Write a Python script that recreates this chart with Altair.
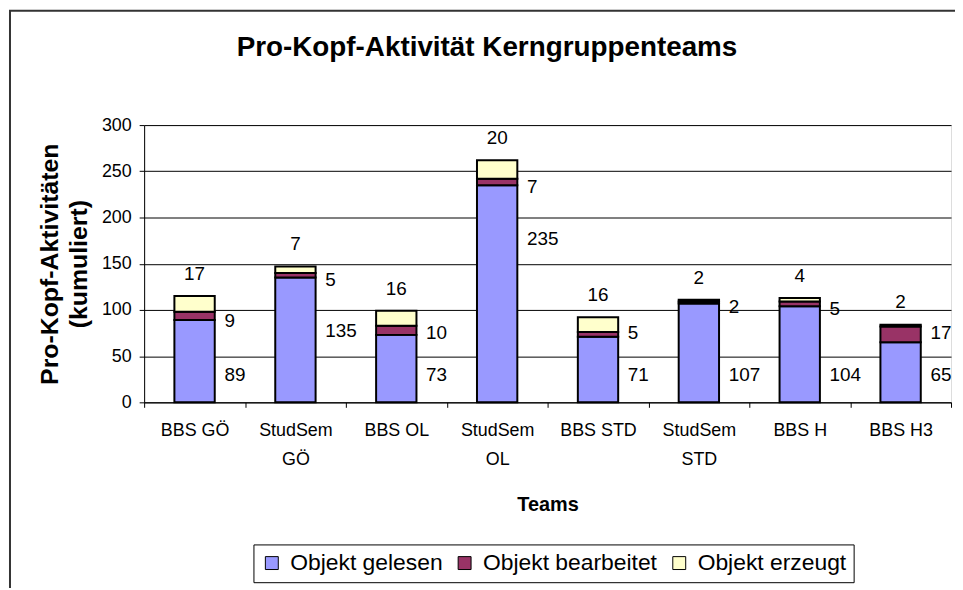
import altair as alt
import pandas as pd

teams = ["BBS GÖ", "StudSem GÖ", "BBS OL", "StudSem OL", "BBS STD", "StudSem STD", "BBS H", "BBS H3"]
gelesen = [89, 135, 73, 235, 71, 107, 104, 65]
bearbeitet = [9, 5, 10, 7, 5, 2, 5, 17]
erzeugt = [17, 7, 16, 20, 16, 2, 4, 2]
series = ["Objekt gelesen", "Objekt bearbeitet", "Objekt erzeugt"]
colors = ["#9999FF", "#993366", "#FFFFCC"]
y_ticks = [0, 50, 100, 150, 200, 250, 300]

df = pd.DataFrame({
    "Team": teams,
    "Objekt gelesen": gelesen,
    "Objekt bearbeitet": bearbeitet,
    "Objekt erzeugt": erzeugt,
})

FONT = "Liberation Sans"

x_enc = alt.X(
    "Team:N",
    sort=teams,
    scale=alt.Scale(paddingInner=0, paddingOuter=0),
    axis=alt.Axis(
        title="Teams",
        titleFont=FONT, titleFontSize=20, titleFontWeight="bold", titleColor="black",
        titlePadding=26,
        labelFont=FONT, labelFontSize=18, labelColor="black", labelAngle=0,
        labelPadding=14, labelLineHeight=30,
        labelExpr="indexof(datum.label, 'StudSem') == 0 ? split(datum.label, ' ') : datum.label",
        tickBand="extent", tickSize=5, tickColor="black", domainColor="black",
        grid=False,
    ),
)

y_scale = alt.Scale(domain=[0, 300], nice=False)

base = alt.Chart(df)

bars = base.transform_fold(
    series, as_=["series", "value"]
).transform_calculate(
    ord="indexof(['Objekt gelesen','Objekt bearbeitet','Objekt erzeugt'], datum.series)"
).mark_bar(
    stroke="black", strokeWidth=2, width=alt.RelativeBandSize(0.4)
).encode(
    x=x_enc,
    y=alt.Y(
        "value:Q",
        stack="zero",
        scale=y_scale,
        axis=alt.Axis(
            values=y_ticks,
            title=["Pro-Kopf-Aktivitäten", "(kumuliert)"],
            titleFont=FONT, titleFontSize=25, titleFontWeight="bold", titleColor="black",
            titleAngle=270, titleAlign="center", titleBaseline="top",
            titleX=-107, titleY=139.5, titleLineHeight=29,
            labelFont=FONT, labelFontSize=18, labelColor="black", labelPadding=8,
            tickSize=5, tickColor="black", domainColor="black",
            grid=True, gridColor="black", gridWidth=1, gridOpacity=1,
        ),
    ),
    color=alt.Color(
        "series:N",
        scale=alt.Scale(domain=series, range=colors),
        legend=alt.Legend(
            title=None, orient="none", legendX=110, legendY=422,
            direction="horizontal",
            labelFont=FONT, labelFontSize=23, labelColor="black", labelLimit=400,
            labelOffset=7,
            symbolType="square", symbolSize=169, symbolStrokeColor="black",
            symbolStrokeWidth=1, symbolOpacity=1,
            strokeColor="black", fillColor="white", padding=7, columnPadding=10,
        ),
    ),
    order=alt.Order("ord:Q", sort="ascending"),
)

lab1 = base.transform_calculate(
    ly="datum['Objekt gelesen'] > 120 ? datum['Objekt gelesen'] - 58 : 30"
).mark_text(
    align="left", baseline="middle", dx=30, font=FONT, fontSize=19, color="black"
).encode(
    x=alt.X("Team:N", sort=teams),
    y=alt.Y("ly:Q", scale=y_scale),
    text=alt.Text("Objekt gelesen:Q"),
)

lab2 = base.transform_calculate(
    ly1="datum['Objekt gelesen'] > 120 ? datum['Objekt gelesen'] - 58 : 30"
).transform_calculate(
    ly="max(datum['Objekt gelesen'] + datum['Objekt bearbeitet'] / 2 - 5, datum.ly1 + 45)"
).mark_text(
    align="left", baseline="middle", dx=30, font=FONT, fontSize=19, color="black"
).encode(
    x=alt.X("Team:N", sort=teams),
    y=alt.Y("ly:Q", scale=y_scale),
    text=alt.Text("Objekt bearbeitet:Q"),
)

lab3 = base.transform_calculate(
    ly="datum['Objekt gelesen'] + datum['Objekt bearbeitet'] + datum['Objekt erzeugt'] + 24"
).mark_text(
    align="center", baseline="middle", font=FONT, fontSize=19, color="black"
).encode(
    x=alt.X("Team:N", sort=teams),
    y=alt.Y("ly:Q", scale=y_scale),
    text=alt.Text("Objekt erzeugt:Q"),
)

frame = alt.Chart(pd.DataFrame({"a": [0]})).mark_rect(
    filled=False, stroke="#333333", strokeWidth=2
).encode(
    x=alt.value(-135), x2=alt.value(840),
    y=alt.value(-115), y2=alt.value(480),
)

chart = alt.layer(bars, lab1, lab2, lab3, frame).properties(
    width=812,
    height=279,
    padding={"left": 137, "top": 116, "right": 4, "bottom": 185},
    autosize=alt.AutoSizeParams(type="none"),
    title=alt.TitleParams(
        "Pro-Kopf-Aktivität Kerngruppenteams",
        font=FONT, fontSize=28, fontWeight="bold", color="black",
        anchor="middle", dx=-61, dy=74, offset=0, baseline="alphabetic",
    ),
).configure_view(
    fill="#C0C0C0", stroke="#808080", strokeWidth=2
).configure(background="white")

chart.save("out.html", embed_options={"renderer": "svg", "actions": False})
